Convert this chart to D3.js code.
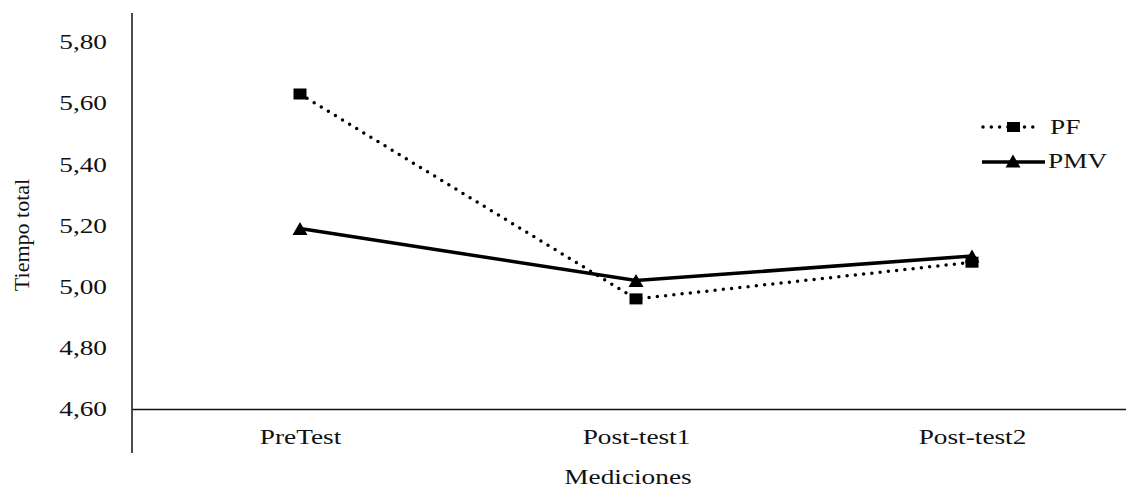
<!DOCTYPE html>
<html>
<head>
<meta charset="utf-8">
<script src="https://cdn.jsdelivr.net/npm/d3@7"></script>
<style>
  html, body { margin: 0; padding: 0; background: #fff; }
  svg { display: block; }
</style>
</head>
<body>
<svg id="chart" width="1126" height="488"></svg>
<script>
const categories = ["PreTest", "Post-test1", "Post-test2"];
const pfValues = [5.63, 4.96, 5.08];
const pmvValues = [5.19, 5.02, 5.10];
const yTicks = [4.6, 4.8, 5.0, 5.2, 5.4, 5.6, 5.8];
const seriesNames = ["PF", "PMV"];

const FONT = "'Liberation Serif', 'Times New Roman', Times, serif";
const svg = d3.select("#chart");
const STRETCH = 1.3;

const x = d3.scalePoint().domain(categories).range([132, 1140]).padding(0.5);
const y = d3.scaleLinear().domain([4.6, 5.8]).range([409, 42]);

function styleText(sel, size) {
  sel.style("font-family", FONT).attr("font-size", size).attr("fill", "#111");
}
function stretch(sel) {
  sel.each(function() {
    const len = this.getComputedTextLength();
    d3.select(this).attr("textLength", len * STRETCH).attr("lengthAdjust", "spacingAndGlyphs");
  });
}

// Y axis
const yAxis = d3.axisLeft(y).tickValues(yTicks).tickSize(0).tickPadding(25)
  .tickFormat(d => d3.format(".2f")(d).replace(".", ","));
const gy = svg.append("g").attr("transform", "translate(132,0)").call(yAxis);
gy.attr("font-family", null);
gy.select(".domain").remove();
styleText(gy.selectAll("text"), 21);
stretch(gy.selectAll("text"));
svg.append("line").attr("x1", 132).attr("x2", 132).attr("y1", 13).attr("y2", 453)
  .attr("stroke", "#111").attr("stroke-width", 1.5);

// X axis
const xAxis = d3.axisBottom(x).tickSize(0).tickPadding(20);
const gx = svg.append("g").attr("transform", "translate(0,409)").call(xAxis);
gx.attr("font-family", null);
gx.select(".domain").attr("stroke", "#111").attr("stroke-width", 1.5);
styleText(gx.selectAll("text"), 21);
stretch(gx.selectAll("text"));

// Axis titles
const xt = svg.append("text").attr("x", 628).attr("y", 484).attr("text-anchor", "middle")
  .text("Mediciones");
styleText(xt, 21);
stretch(xt);
const yt = svg.append("text").attr("transform", "translate(29,235) rotate(-90)")
  .attr("text-anchor", "middle").text("Tiempo total");
styleText(yt, 22);

// Lines
const line = d3.line().x((d, i) => x(categories[i])).y(d => y(d));
svg.append("path").datum(pfValues).attr("d", line).attr("fill", "none")
  .attr("stroke", "#000").attr("stroke-width", 3.5)
  .attr("stroke-dasharray", "0 8.3").attr("stroke-linecap", "round");
svg.append("path").datum(pmvValues).attr("d", line).attr("fill", "none")
  .attr("stroke", "#000").attr("stroke-width", 3.5);

// Markers
const sqW = 13, sqH = 11, trW = 15, trH = 13;
function triPath(cx, cy) {
  return `M${cx},${cy - trH / 2}L${cx + trW / 2},${cy + trH / 2}L${cx - trW / 2},${cy + trH / 2}Z`;
}
svg.append("g").selectAll("rect").data(pfValues).join("rect")
  .attr("x", (d, i) => x(categories[i]) - sqW / 2).attr("y", d => y(d) - sqH / 2)
  .attr("width", sqW).attr("height", sqH).attr("fill", "#000");
svg.append("g").selectAll("path").data(pmvValues).join("path")
  .attr("d", (d, i) => triPath(x(categories[i]), y(d))).attr("fill", "#000");

// Legend
const lg = svg.append("g");
lg.append("line").attr("x1", 983).attr("x2", 1040).attr("y1", 127).attr("y2", 127)
  .attr("stroke", "#000").attr("stroke-width", 3.5)
  .attr("stroke-dasharray", "0 8.3").attr("stroke-linecap", "round");
lg.append("rect").attr("x", 1007).attr("y", 122).attr("width", sqW).attr("height", sqH - 1).attr("fill", "#000");
const t1 = lg.append("text").attr("x", 1050).attr("y", 134).text(seriesNames[0]);
lg.append("line").attr("x1", 982).attr("x2", 1045).attr("y1", 162).attr("y2", 162)
  .attr("stroke", "#000").attr("stroke-width", 3.5);
lg.append("path").attr("d", triPath(1013, 161)).attr("fill", "#000");
const t2 = lg.append("text").attr("x", 1048).attr("y", 168).text(seriesNames[1]);
styleText(t1, 21); styleText(t2, 21);
stretch(t1); stretch(t2);
</script>
</body>
</html>
